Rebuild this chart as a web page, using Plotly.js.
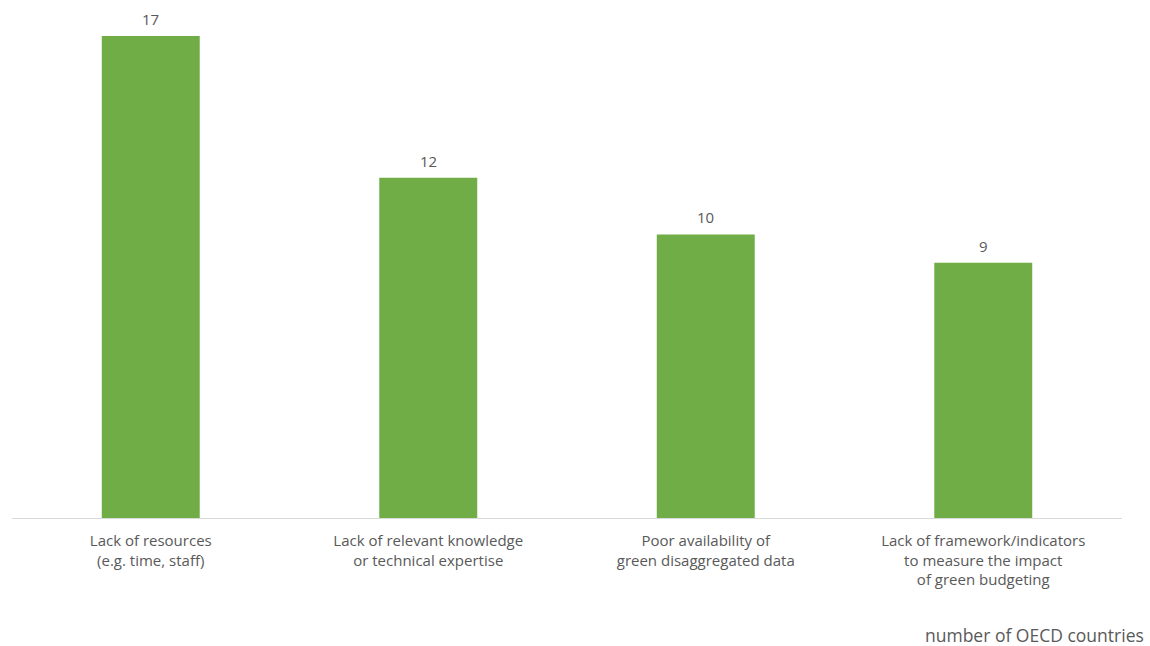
<!DOCTYPE html>
<html>
<head>
<meta charset="utf-8">
<script src="https://cdn.plot.ly/plotly-3.0.1.min.js"></script>
<style>html,body{margin:0;padding:0;background:#fff;}#chart{width:1150px;height:646px;}</style>
</head>
<body>
<div id="chart"></div>
<script>
const categories = [
  "Lack of resources<br>(e.g. time, staff)",
  "Lack of relevant knowledge<br>or technical expertise",
  "Poor availability of<br>green disaggregated data",
  "Lack of framework/indicators<br>to measure the impact<br>of green budgeting"
];
const values = [17, 12, 10, 9];
const unitLabel = "number of OECD countries";

const textColor = "#595959";
const fontFam = "'Open Sans', 'Noto Sans', sans-serif";

Plotly.newPlot("chart", [{
  type: "bar",
  x: categories,
  y: values,
  marker: {color: "#70AD47"},
  hoverinfo: "none"
}], {
  width: 1150,
  height: 646,
  margin: {l: 12, r: 28, t: 36, b: 128},
  paper_bgcolor: "#fff",
  plot_bgcolor: "#fff",
  bargap: 0.647,
  showlegend: false,
  xaxis: {
    showline: true,
    linecolor: "#d9d9d9",
    linewidth: 1,
    ticks: "",
    ticklabelstandoff: 9,
    tickfont: {family: fontFam, size: 15, color: textColor},
    showgrid: false,
    zeroline: false
  },
  yaxis: {
    range: [0, 17],
    visible: false,
    showgrid: false,
    zeroline: false
  },
  annotations: values.map((v, i) => ({
    text: String(v),
    x: categories[i], y: v,
    xref: "x", yref: "y",
    yanchor: "bottom",
    yshift: 5,
    showarrow: false,
    font: {family: fontFam, size: 15, color: textColor}
  })).concat([{
    text: unitLabel,
    xref: "paper", yref: "paper",
    x: 1.022, y: -0.242,
    xanchor: "right", yanchor: "middle",
    showarrow: false,
    font: {family: fontFam, size: 17.5, color: textColor}
  }])
}, {displayModeBar: false, staticPlot: true});
</script>
</body>
</html>
